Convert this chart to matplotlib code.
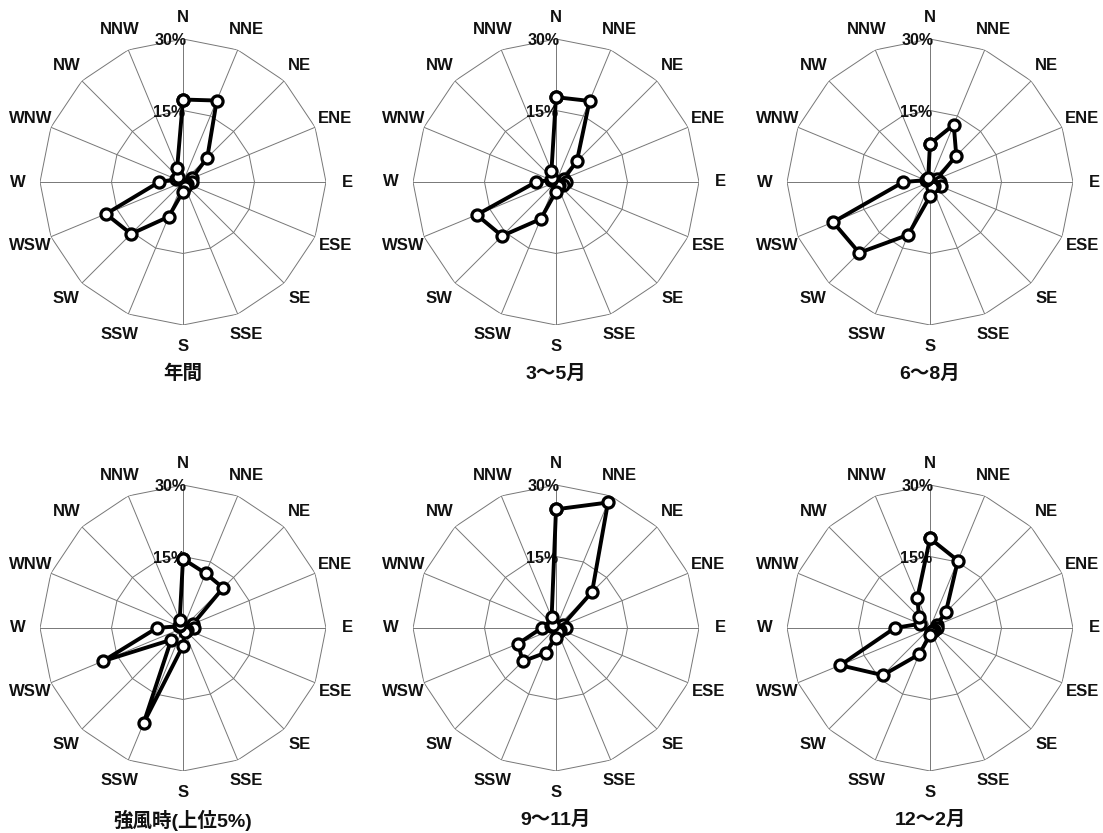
import numpy as np
import matplotlib
matplotlib.use("Agg")
import matplotlib.pyplot as plt

plt.rcParams['font.family'] = ['Liberation Sans', 'Noto Sans CJK JP', 'DejaVu Sans']

directions = ["N", "NNE", "NE", "ENE", "E", "ESE", "SE", "SSE",
              "S", "SSW", "SW", "WSW", "W", "WNW", "NW", "NNW"]

# frequency (%) for each direction
annual = [17.3, 18.5, 7.2, 2.0, 1.8, 1.0, 1.0, 1.2, 2.0, 7.9, 15.4, 17.5, 5.0, 1.5, 1.5, 3.2]
spring = [17.8, 18.4, 6.2, 1.8, 2.0, 1.5, 1.0, 1.0, 2.0, 8.4, 16.0, 18.0, 4.2, 1.2, 1.2, 2.5]
summer = [8.0, 13.0, 7.8, 1.5, 2.0, 2.4, 1.2, 1.2, 3.0, 12.0, 21.0, 22.0, 5.6, 1.0, 1.0, 1.0]
strong = [14.5, 12.4, 11.9, 2.3, 2.3, 1.0, 0.8, 1.0, 3.7, 21.6, 3.5, 18.2, 5.5, 1.0, 1.0, 1.8]
autumn = [24.9, 28.5, 10.7, 1.5, 2.0, 1.0, 1.0, 1.0, 2.0, 5.6, 9.9, 8.6, 3.0, 1.2, 1.0, 2.4]
winter = [18.8, 15.3, 4.7, 1.5, 1.5, 1.0, 0.8, 0.8, 1.5, 6.0, 14.0, 20.4, 7.4, 2.3, 3.3, 6.9]

titles = ["年間", "3〜5月", "6〜8月", "強風時(上位5%)", "9〜11月", "12〜2月"]
series = [annual, spring, summer, strong, autumn, winter]
rings = [15, 30]
ring_labels = ["15%", "30%"]

W, H = 1103, 833
fig = plt.figure(figsize=(W / 100, H / 100), dpi=100)
fig.patch.set_facecolor("white")

centers = [(183, 182), (556, 182), (930, 182), (183, 628), (556, 628), (930, 628)]
radius = 143

theta = np.deg2rad(np.arange(16) * 22.5)
theta_closed = np.append(theta, theta[0])

for (cx, cy), values, title in zip(centers, series, titles):
    ax = fig.add_axes([(cx - radius) / W, 1 - (cy + radius) / H,
                       2 * radius / W, 2 * radius / H], projection="polar")
    ax.set_theta_zero_location("N")
    ax.set_theta_direction(-1)
    ax.set_ylim(0, 30)
    ax.grid(False)
    ax.set_xticks([])
    ax.set_yticks([])
    ax.spines["polar"].set_visible(False)
    ax.patch.set_visible(False)

    # polygon grid
    for r in rings:
        ax.plot(theta_closed, [r] * 17, color="#777777", lw=0.7, zorder=1)
    for t in theta:
        ax.plot([t, t], [0, 30], color="#777777", lw=0.7, zorder=1)

    for r, lab in zip(rings, ring_labels):
        ax.text(0.025, r - 0.4, lab, ha="right", va="center", fontsize=11.5,
                fontweight="bold", color="#111111", zorder=2)

    for t, d in zip(theta, directions):
        ax.text(t, 34.6, d, ha="center", va="center", fontsize=12,
                fontweight="bold", color="#111111", clip_on=False)

    ax.text(np.pi, 40.3, title, ha="center", va="center", fontsize=14,
            fontweight="bold", color="#111111", clip_on=False)

    vals = np.append(values, values[0])
    ax.plot(theta_closed, vals, color="black", lw=2.8, marker="o", ms=8,
            mfc="white", mec="black", mew=2.3, zorder=3, clip_on=False)

plt.savefig("out.png", dpi=100)
